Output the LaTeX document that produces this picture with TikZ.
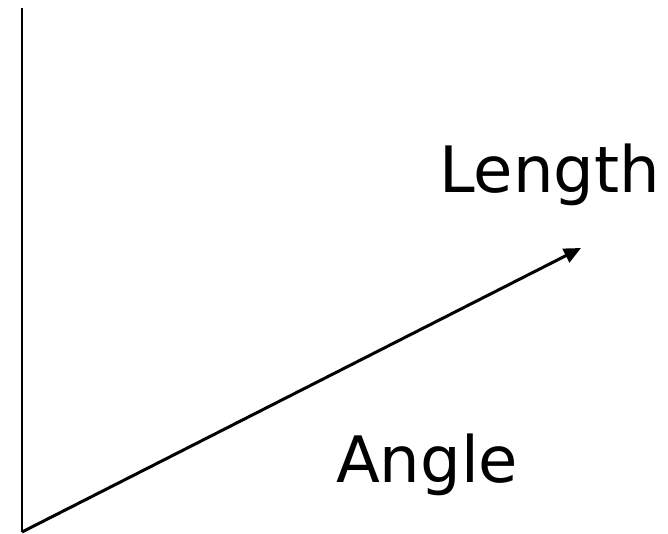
\documentclass[tikz,border=0pt]{standalone}
\usepackage{fontspec}
\setmainfont{DejaVu Sans}
\usetikzlibrary{arrows.meta,positioning}

\begin{document}
\begin{tikzpicture}[x=1pt,y=1pt,
axis/.style={line width=2.6pt, line cap=butt},
vec/.style={-{Triangle[length=17pt,width=15pt]}, line width=3pt},
lbl/.style={font=\fontsize{64}{70}\selectfont, inner sep=0pt, anchor=base west}
]
\useasboundingbox (0,0) rectangle (668,533);

\coordinate (origin) at (22,1);
\coordinate (top) at (22,525);
\coordinate (tip) at (581,285);

\draw[axis] (origin) -- (top);
\draw[vec] (origin) -- (tip);

\node[lbl] (length) at (439,340) {Length};
\node[lbl] (angle) at (336,51) {Angle};

\end{tikzpicture}
\end{document}
